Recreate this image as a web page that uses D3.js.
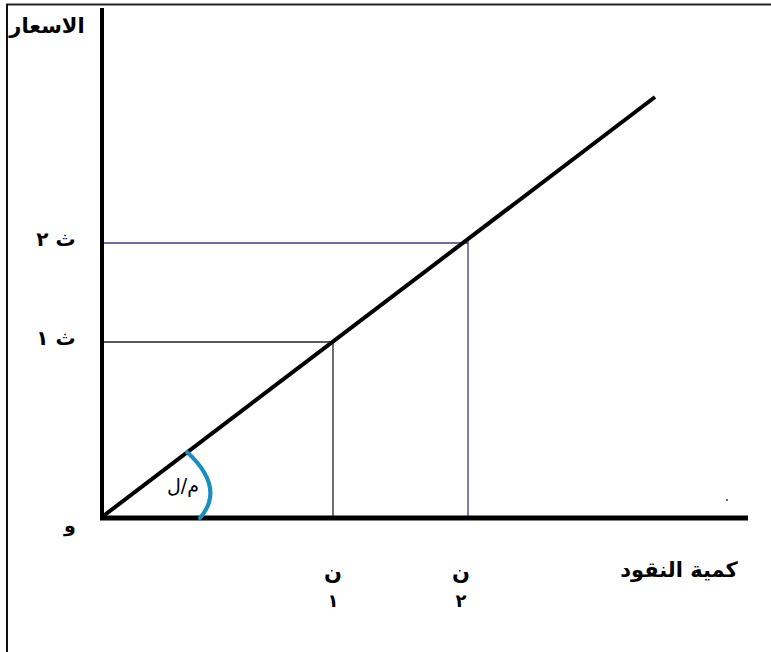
<!DOCTYPE html>
<html lang="ar">
<head>
<meta charset="UTF-8">
<title>كمية النقود والاسعار</title>
<script src="https://cdn.jsdelivr.net/npm/d3@7/dist/d3.min.js"></script>
<style>
  body { margin: 0; background: #fff; }
  text { font-family: "DejaVu Sans", sans-serif; font-weight: bold; fill: #000; }
</style>
</head>
<body>
<svg width="771" height="652"></svg>
<script>
// كمية النقود (ن) والاسعار (ث) في وحدات الرسم
var levelNames = ["١", "٢"];
var moneyQty = [231, 366];
var priceLvl = [175, 274];
var lineEnd = [553, 420];
var xMax = 646, yMax = 510;

var svg = d3.select("svg");

// frame (top + left edges only)
svg.append("line").attr("x1", 6).attr("x2", 771).attr("y1", 4.5).attr("y2", 4.5)
  .attr("stroke", "#222").attr("stroke-width", 2);
svg.append("line").attr("x1", 7).attr("x2", 7).attr("y1", 4).attr("y2", 652)
  .attr("stroke", "#111").attr("stroke-width", 2);

var x = d3.scaleLinear().domain([0, xMax]).range([102, 748]);
var y = d3.scaleLinear().domain([0, yMax]).range([517, 7]);

var g = svg.append("g");

// guide lines
var guideColor = ["#222", "#3a3a8a"];
moneyQty.forEach(function (q, i) {
  g.append("line")
    .attr("x1", x(0)).attr("x2", x(q))
    .attr("y1", y(priceLvl[i])).attr("y2", y(priceLvl[i]))
    .attr("stroke", guideColor[i]).attr("stroke-width", 1.3);
  g.append("line")
    .attr("x1", x(q)).attr("x2", x(q))
    .attr("y1", y(priceLvl[i]) - 2).attr("y2", y(0))
    .attr("stroke", guideColor[i]).attr("stroke-width", 1.3);
});

// axes
g.append("line").attr("x1", x(0)).attr("x2", x(0)).attr("y1", y(yMax) + 1).attr("y2", y(0) + 2)
  .attr("stroke", "#000").attr("stroke-width", 4);
g.append("line").attr("x1", x(0) - 2).attr("x2", x(xMax)).attr("y1", y(0) + 1).attr("y2", y(0) + 1)
  .attr("stroke", "#000").attr("stroke-width", 5);
g.append("circle").attr("cx", 727).attr("cy", 500).attr("r", 1).attr("fill", "#333");

// quantity theory line
var line = d3.line().x(function (d) { return x(d[0]); }).y(function (d) { return y(d[1]); });
g.append("path")
  .attr("d", line([[0, 0], lineEnd]))
  .attr("stroke", "#000").attr("stroke-width", 4).attr("fill", "none");

// angle mark
var p = d3.path();
p.moveTo(187, 452);
p.quadraticCurveTo(226, 488, 200, 518);
g.append("path").attr("d", p.toString())
  .attr("stroke", "#1b8ec0").attr("stroke-width", 4).attr("fill", "none")
  .attr("stroke-linecap", "round");
g.append("text").attr("x", 183).attr("y", 492).attr("text-anchor", "middle")
  .attr("font-size", 19).style("font-weight", "normal")
  .text("م/ل");

// labels
g.append("text").attr("x", 47).attr("y", 33).attr("text-anchor", "middle")
  .attr("font-size", 21).text("الاسعار");
g.append("text").attr("x", 679).attr("y", 577).attr("text-anchor", "middle")
  .attr("font-size", 21).text("كمية النقود");
g.append("text").attr("x", 70).attr("y", 532).attr("text-anchor", "middle")
  .attr("font-size", 19).text("و");

levelNames.forEach(function (n, i) {
  g.append("text").attr("x", 56).attr("y", y(priceLvl[i]) + 3).attr("text-anchor", "middle")
    .attr("font-size", 20).text("ث " + n);
  var xq = x(moneyQty[i]) - (i === 1 ? 7 : 0);
  g.append("text").attr("x", xq).attr("y", 580).attr("text-anchor", "middle")
    .attr("font-size", 21).text("ن");
  g.append("text").attr("x", xq).attr("y", 607).attr("text-anchor", "middle")
    .attr("font-size", 18).text(n);
});
</script>
</body>
</html>
